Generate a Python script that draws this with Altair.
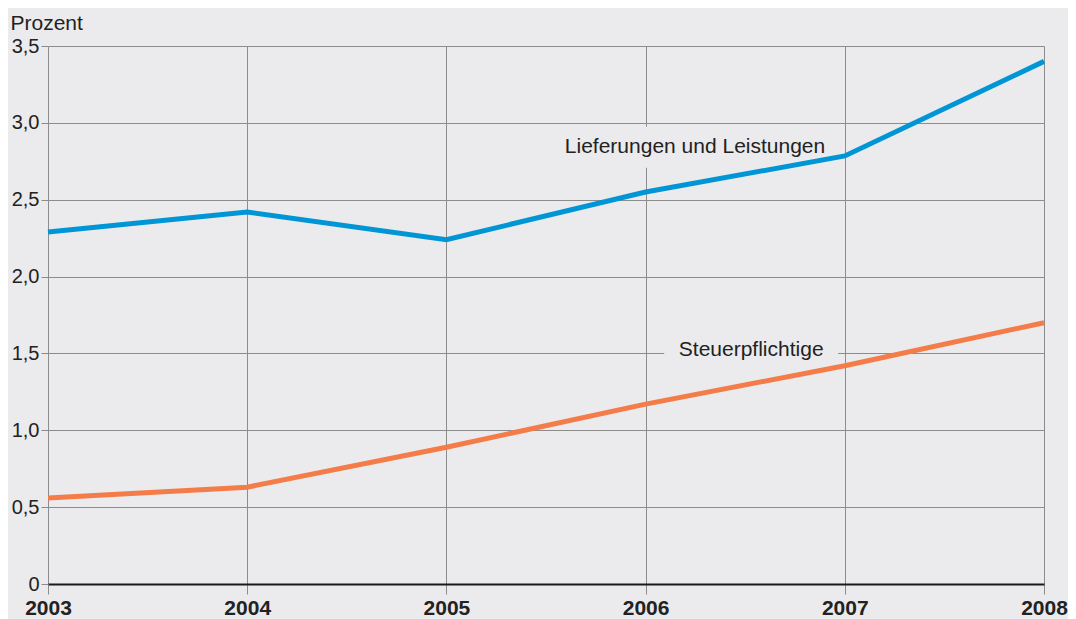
import altair as alt
import pandas as pd

years = [2003, 2004, 2005, 2006, 2007, 2008]
lieferungen = [2.29, 2.42, 2.24, 2.55, 2.785, 3.40]
steuerpflichtige = [0.56, 0.63, 0.89, 1.17, 1.42, 1.70]
series_names = ["Lieferungen und Leistungen", "Steuerpflichtige"]
series_colors = ["#0096d6", "#f47c48"]
y_ticks = [0, 0.5, 1.0, 1.5, 2.0, 2.5, 3.0, 3.5]

label_x = [2006.248, 2006.53]
label_y = [2.845, 1.52]

rows = []
for i, yv in enumerate(years):
    rows.append({"Jahr": yv, "Wert": lieferungen[i], "Reihe": series_names[0]})
    rows.append({"Jahr": yv, "Wert": steuerpflichtige[i], "Reihe": series_names[1]})
df = pd.DataFrame(rows)

lab = pd.DataFrame({"text": series_names, "x": label_x, "y": label_y})

BG = "#ebebed"
FONT = "Liberation Sans"

xscale = alt.Scale(domain=[2003, 2008], nice=False, zero=False)
yscale = alt.Scale(domain=[0, 3.5], nice=False)

x_axis = alt.Axis(
    values=years, format="d", title=None, grid=True, gridColor="#8c8c8c", gridWidth=1,
    domain=True, domainColor="#1a1a1a", domainWidth=2, tickColor="#8c8c8c", tickSize=10,
    labelFont=FONT, labelFontSize=21, labelFontWeight="bold", labelColor="#222222",
    labelPadding=3, labelFlush=False,
)
y_axis = alt.Axis(
    values=y_ticks, title="Prozent", titleAngle=0, titleAlign="left", titleBaseline="alphabetic",
    titleX=-38, titleY=-17, titleFont=FONT, titleFontSize=21, titleFontWeight="normal",
    titleColor="#222222",
    labelExpr="datum.value == 0 ? '0' : replace(format(datum.value, '.1f'), '.', ',')",
    grid=True, gridColor="#8c8c8c", gridWidth=1, domain=False,
    tickColor="#8c8c8c", tickSize=7, labelPadding=2,
    labelFont=FONT, labelFontSize=20, labelColor="#222222",
)

lines = alt.Chart(df).mark_line(strokeWidth=5).encode(
    x=alt.X("Jahr:Q", scale=xscale, axis=x_axis),
    y=alt.Y("Wert:Q", scale=yscale, axis=y_axis),
    color=alt.Color("Reihe:N", scale=alt.Scale(domain=series_names, range=series_colors), legend=None),
)

box1 = alt.Chart(lab.iloc[[0]]).mark_rect(
    color=BG, xOffset=-143, x2Offset=143, yOffset=-20, y2Offset=21
).encode(
    x=alt.X("x:Q", scale=xscale), x2="x:Q",
    y=alt.Y("y:Q", scale=yscale), y2="y:Q",
)
box2 = alt.Chart(lab.iloc[[1]]).mark_rect(
    color=BG, xOffset=-87, x2Offset=87, yOffset=-20, y2Offset=21
).encode(
    x=alt.X("x:Q", scale=xscale), x2="x:Q",
    y=alt.Y("y:Q", scale=yscale), y2="y:Q",
)
texts = alt.Chart(lab).mark_text(
    font=FONT, fontSize=21, color="#222222", align="center", baseline="middle"
).encode(
    x=alt.X("x:Q", scale=xscale),
    y=alt.Y("y:Q", scale=yscale),
    text="text:N",
)

chart = alt.layer(box1, box2, texts, lines).properties(
    width=996, height=538, background=BG,
    autosize=alt.AutoSizeParams(type="none"),
    padding={"left": 40, "top": 38, "right": 24, "bottom": 35},
).configure_view(stroke=None)

chart.save("out.html", embed_options={"renderer": "svg", "actions": False})
